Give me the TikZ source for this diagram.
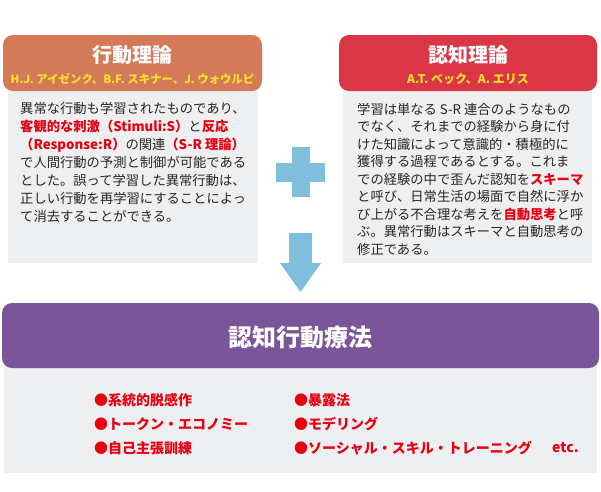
\documentclass[tikz,border=0pt]{standalone}
\usepackage{fontspec}
\setmainfont{Noto Sans CJK JP}
\usepackage{xcolor}
\usetikzlibrary{positioning}

\definecolor{naranja}{HTML}{D47A58}
\definecolor{carmin}{HTML}{DA3646}
\definecolor{morado}{HTML}{7A5599}
\definecolor{panelgris}{HTML}{EEEFF1}
\definecolor{celeste}{HTML}{7FBFDB}
\definecolor{amarillo}{HTML}{F7E22B}
\definecolor{rojotexto}{HTML}{E60012}
\newcommand{\rojo}[1]{\textbf{\textcolor{rojotexto}{#1}}}

\tikzset{
  cabecera/.style={rounded corners=10pt, inner sep=0pt},
  titulo/.style={text=white, font=\bfseries\fontsize{20}{22}\selectfont, inner sep=0pt},
  autores/.style={text=amarillo, font=\bfseries\fontsize{11.4}{12}\selectfont, inner sep=0pt},
  cuerpo/.style={anchor=north west, align=left, inner sep=0pt, text=black!85,
    font=\fontsize{13.3}{18}\selectfont},
  tecnica/.style={anchor=west, inner sep=0pt, font=\bfseries\fontsize{14}{16}\selectfont, text=rojotexto}
}

\begin{document}
\begin{tikzpicture}[x=1pt, y=-1pt]
        \useasboundingbox (0,0) rectangle (601,491);

        % Paneles grises
        \fill[panelgris] (8,85) rectangle (258,263);
        \fill[panelgris] (343,85) rectangle (592,263);
        \fill[panelgris] (4,360) rectangle (597,473);

        % Cabeceras
        \fill[naranja, cabecera] (3,35) rectangle (262,91);
        \fill[carmin, cabecera] (339,35) rectangle (597,91);
        \fill[morado, cabecera] (2,303) rectangle (599,368);

        \node[titulo] (conductual) at (132.5,55) {行動理論};
        \node[autores] (conductualaut) at (132.5,79) {H.J. アイゼンク、B.F. スキナー、J. ウォウルピ};
        \node[titulo] (cognitiva) at (468,55) {認知理論};
        \node[autores, font=\bfseries\fontsize{12}{13}\selectfont] (cognitivaaut) at (468,79) {A.T. ベック、A. エリス};
        \node[titulo, font=\bfseries\fontsize{24}{26}\selectfont] (terapia) at (300.5,337) {認知行動療法};

        % Textos
        \node[cuerpo] (textoconductual) at (20,102.5) {異常な行動も学習されたものであり、\\
          \rojo{客観的な刺激（Stimuli:S）}と\rojo{反応}\\
          \rojo{（Response:R）}の関連\rojo{（S-R 理論）}\\
          で人間行動の予測と制御が可能である\\
          とした。誤って学習した異常行動は、\\
          正しい行動を再学習にすることによっ\\
          て消去することができる。};
        \node[cuerpo, font=\fontsize{13.3}{17.5}\selectfont] (textocognitivo) at (357,103) {学習は単なる S-R 連合のようなもの\\
          でなく、それまでの経験から身に付\\
          けた知識によって意識的・積極的に\\
          獲得する過程であるとする。これま\\
          での経験の中で歪んだ認知を\rojo{スキーマ}\\
          と呼び、日常生活の場面で自然に浮か\\
          び上がる不合理な考えを\rojo{自動思考}と呼\\
          ぶ。異常行動はスキーマと自動思考の\\
          修正である。};

        % Signo mas
        \fill[celeste] (292,147) rectangle (310,197);
        \fill[celeste] (276,163) rectangle (325,182);

        % Flecha
        \fill[celeste] (289,233) -- (312,233) -- (312,263) -- (321,263) -- (300.5,292)
          -- (280,263) -- (289,263) -- cycle;

        % Tecnicas
        \node[tecnica] (desens) at (94,400) {●系統的脱感作};
        \node[tecnica] (ficha) at (94,424) {●トークン・エコノミー};
        \node[tecnica] (asert) at (94,448) {●自己主張訓練};
        \node[tecnica] (exposicion) at (294,400) {●暴露法};
        \node[tecnica] (modelado) at (294,424) {●モデリング};
        \node[tecnica] (habilidades) at (294,448) {●ソーシャル・スキル・トレーニング};
        \node[tecnica] (etc) at (552,448) {etc.};

    \end{tikzpicture}
\end{document}
